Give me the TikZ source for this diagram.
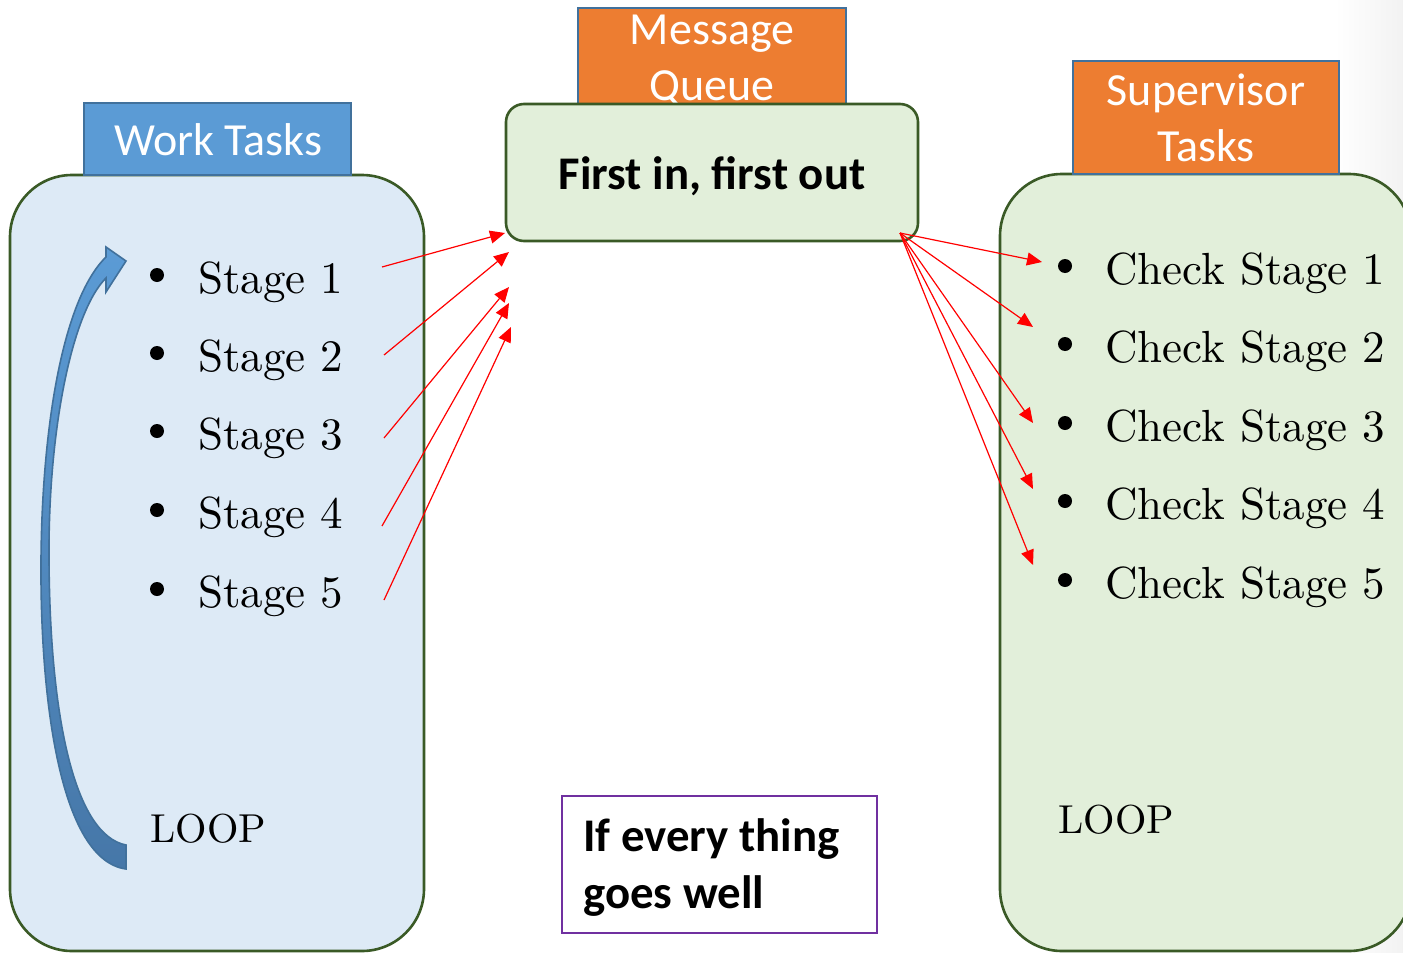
\documentclass[tikz,border=0pt]{standalone}
\usepackage{fontspec}
\newfontfamily\carlito{Carlito}
\newfontfamily\bodyserif{lmroman10-regular.otf}
\usetikzlibrary{arrows.meta}

\definecolor{panelblue}{HTML}{DDEAF6}
\definecolor{panelgreen}{HTML}{E2EFDA}
\definecolor{panelrim}{HTML}{3A5A26}
\definecolor{tagblue}{HTML}{5B9BD5}
\definecolor{tagrim}{HTML}{41719C}
\definecolor{tagorange}{HTML}{ED7D31}
\definecolor{notepurple}{HTML}{7030A0}
\definecolor{loopdark}{HTML}{4677A8}

\begin{document}
\begin{tikzpicture}[x=0.5pt,y=-0.5pt,
  panel/.style={draw=panelrim, line width=1.3pt, rounded corners=31pt, inner sep=0pt},
  tag/.style={draw=tagrim, line width=1pt, inner sep=0pt},
  tagtext/.style={anchor=base, inner sep=0pt, text=white, font=\carlito\fontsize{23}{28}\selectfont},
  serif/.style={anchor=base west, inner sep=0pt, font=\bodyserif\fontsize{22.5}{27}\selectfont},
  loopword/.style={anchor=base west, inner sep=0pt, font=\bodyserif\fontsize{20.2}{24}\selectfont},
  dot/.style={circle, fill=black, inner sep=0pt, minimum size=7pt},
  boldtext/.style={inner sep=0pt, font=\carlito\bfseries\fontsize{23.4}{29}\selectfont},
  msg/.style={draw=red, line width=0.6pt, -{Triangle[length=7.5pt,width=6.5pt]}}]

\useasboundingbox (0,0) rectangle (1403,953);
\clip (0,0) rectangle (1403,953);

% soft shadow along the right edge
\shade[left color=white, right color=black!5] (1335,0) rectangle (1403,953);

% ---------- work tasks panel ----------
\node[panel, fill=panelblue, minimum width=207pt, minimum height=388pt] (work) at (217,563) {};
\node[tag, fill=tagblue, minimum width=133.5pt, minimum height=36pt] (worktag) at (217.5,139) {};
\node[tagtext] (worklabel) at (218,155) {Work Tasks};

\foreach \i/\yb in {1/293,2/371,3/449,4/528,5/607}{
  \node[dot] (wb\i) at (157,\yb-18) {};
  \node[serif] (ws\i) at (198,\yb) {Stage \i};
}
\node[loopword] (workloop) at (150,842) {LOOP};

% curved loop arrow
\path[draw=tagrim, line width=0.8pt, top color=tagblue, bottom color=loopdark, line join=miter]
  (106,257) .. controls (62,300) and (42,430) .. (41,560)
  .. controls (40,700) and (60,860) .. (126,869)
  -- (126,845)
  .. controls (75,835) and (50,720) .. (49,560)
  .. controls (48,430) and (72,312) .. (106,278)
  -- (106,292) -- (126,261) -- (106,247) -- cycle;

% ---------- message queue ----------
\node[tag, fill=tagorange, minimum width=134pt, minimum height=48pt] (mqtag) at (712,56) {};
\node[tagtext] (mqline1) at (712,44) {Message};
\node[tagtext] (mqline2) at (712,100) {Queue};
\node[panel, fill=panelgreen, rounded corners=9pt, minimum width=206pt, minimum height=68.5pt] (fifo) at (712,172.5) {};
\node[boldtext, anchor=base] (fifotext) at (712,189) {First in, first out};

% ---------- supervisor tasks panel ----------
\node[panel, fill=panelgreen, minimum width=205.5pt, minimum height=388.5pt] (super) at (1205.5,562.5) {};
\node[tag, fill=tagorange, minimum width=133pt, minimum height=56.5pt] (supertag) at (1206,117.5) {};
\node[tagtext] (superline1) at (1206,105) {Supervisor};
\node[tagtext] (superline2) at (1206,161) {Tasks};

\foreach \i/\yb in {1/284,2/362,3/441,4/519,5/598}{
  \node[dot] (cb\i) at (1065,\yb-18) {};
  \node[serif] (cs\i) at (1105,\yb) {Check Stage \i};
}
\node[loopword] (superloop) at (1058,833) {LOOP};

% ---------- note ----------
\node[draw=notepurple, line width=0.8pt, minimum width=157.5pt, minimum height=68.5pt, inner sep=0pt] (note) at (719.5,864.5) {};
\node[boldtext, anchor=base west] (noteline1) at (583,851) {If every thing};
\node[boldtext, anchor=base west] (noteline2) at (583,908) {goes well};

% ---------- message arrows ----------
\coordinate (w1) at (382,267);
\coordinate (w2) at (384,355);
\coordinate (w3) at (384,438);
\coordinate (w4) at (382,526);
\coordinate (w5) at (384,600);
\coordinate (q1) at (505,233);
\coordinate (q2) at (509,252);
\coordinate (q3) at (509,287);
\coordinate (q4) at (509,303);
\coordinate (q5) at (511,327);
\foreach \i in {1,...,5}{ \draw[msg] (w\i) -- (q\i); }

\coordinate (qout) at (900,233);
\coordinate (c1) at (1042,262);
\coordinate (c2) at (1033,327);
\coordinate (c3) at (1033,423);
\coordinate (c4) at (1033,489);
\coordinate (c5) at (1033,565);
\foreach \i in {1,...,5}{ \draw[msg] (qout) -- (c\i); }

\end{tikzpicture}
\end{document}
